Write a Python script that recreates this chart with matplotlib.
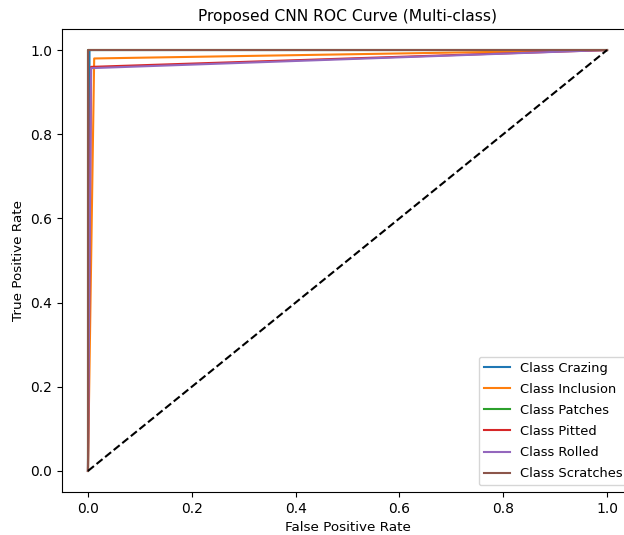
import matplotlib
matplotlib.use("Agg")
import matplotlib.pyplot as plt

classes = ["Crazing", "Inclusion", "Patches", "Pitted", "Rolled", "Scratches"]
fprs = [
    [0.0, 0.003, 1.0],
    [0.0, 0.012, 1.0],
    [0.0, 0.0, 1.0],
    [0.0, 0.006, 1.0],
    [0.0, 0.006, 1.0],
    [0.0, 0.0, 1.0],
]
tprs = [
    [0.0, 1.0, 1.0],
    [0.0, 0.98, 1.0],
    [0.0, 1.0, 1.0],
    [0.0, 0.96, 1.0],
    [0.0, 0.957, 1.0],
    [0.0, 1.0, 1.0],
]

fig = plt.figure(figsize=(6.24, 5.35), dpi=100)
ax = fig.add_axes([62 / 624, 43 / 535, 571 / 624, 463 / 535])

for name, f, t in zip(classes, fprs, tprs):
    ax.plot(f, t, lw=1.5, label=f"Class {name}")
ax.plot([0, 1], [0, 1], "k--", lw=1.5)

ax.set_xlabel("False Positive Rate", fontsize=9.7)
ax.set_ylabel("True Positive Rate", fontsize=9.7)
ax.set_title("Proposed CNN ROC Curve (Multi-class)", fontsize=11.2)
# right side of the original is cropped; legend box runs to the edge
ax.legend(loc="lower right", bbox_to_anchor=(1.003, 0.0), fontsize=9.4,
          labelspacing=0.62)

fig.savefig("out.png", dpi=100)
